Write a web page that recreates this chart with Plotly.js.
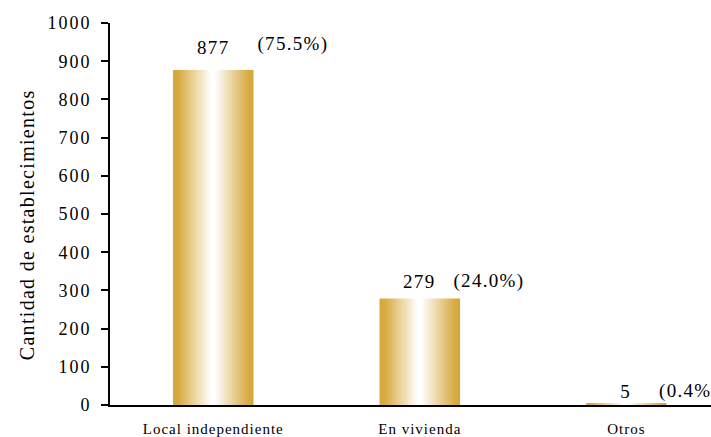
<!DOCTYPE html>
<html>
<head>
<meta charset="utf-8">
<script src="https://cdn.plot.ly/plotly-3.0.1.min.js"></script>
<style>
html,body{margin:0;padding:0;background:#fff;}
#chart{width:711px;height:437px;}
#chart .xtick text{letter-spacing:1px;}
#chart .ytick text{letter-spacing:2px;}
#chart .annotation text{letter-spacing:1.3px;}
#chart .annotation.ytitle-ann text{letter-spacing:1px;}
</style>
</head>
<body>
<div id="chart"></div>
<script>
const categories = ["Local independiente", "En vivienda", "Otros"];
const counts = [877, 279, 5];
const percentLabels = ["(75.5%)", "(24.0%)", "(0.4%)"];
const yTickValues = [0, 100, 200, 300, 400, 500, 600, 700, 800, 900, 1000];
const yTitle = "Cantidad de establecimientos";

const serif = "Liberation Serif";

const annotations = [];
const pctShift = [47, 36, 35];
const valShift = [22, 17, 12];
const pctY = [26, 17, 12];
categories.forEach((c, i) => {
  annotations.push({
    x: c, y: counts[i], xref: "x", yref: "y",
    text: String(counts[i]), showarrow: false,
    xanchor: "center", yanchor: "middle", yshift: valShift[i],
    font: {family: serif, size: 19, color: "#000"}
  });
  annotations.push({
    x: c, y: counts[i], xref: "x", yref: "y",
    text: percentLabels[i], showarrow: false,
    xanchor: "left", yanchor: "middle", xshift: pctShift[i], yshift: pctY[i],
    font: {family: serif, size: 19, color: "#000"}
  });
});
annotations.push({
  x: 0, y: 0.5, xref: "paper", yref: "paper",
  text: yTitle, showarrow: false, textangle: -90,
  xanchor: "center", yanchor: "middle", xshift: -83, yshift: -11,
  font: {family: serif, size: 20, color: "#000"}
});

const data = [{
  type: "bar",
  x: categories,
  y: counts,
  width: 0.39,
  marker: {color: "#D6A73A", line: {width: 0}},
  hoverinfo: "none"
}];

const layout = {
  width: 711, height: 437,
  margin: {l: 110, r: 0, t: 23, b: 32, pad: 0},
  paper_bgcolor: "#fff", plot_bgcolor: "#fff",
  showlegend: false,
  font: {family: serif, color: "#000"},
  xaxis: {
    range: [-0.5, 2.41],
    showgrid: false, zeroline: false,
    showline: true, linecolor: "#000", linewidth: 2,
    ticks: "", ticklabelstandoff: 9,
    tickfont: {family: serif, size: 15, color: "#000"}
  },
  yaxis: {
    range: [0, 1000],
    tickvals: yTickValues,
    ticktext: yTickValues.map(String),
    showgrid: false, zeroline: false,
    showline: true, linecolor: "#000", linewidth: 2,
    ticks: "outside", ticklen: 7, tickwidth: 2, tickcolor: "#000",
    ticklabelstandoff: 6,
    tickfont: {family: serif, size: 18, color: "#000"}
  },
  annotations: annotations
};

Plotly.newPlot("chart", data, layout, {displayModeBar: false, staticPlot: true}).then(() => {
  const svg = document.querySelector("#chart .main-svg");
  const ns = "http://www.w3.org/2000/svg";
  let defs = svg.querySelector("defs");
  if (!defs) { defs = document.createElementNS(ns, "defs"); svg.insertBefore(defs, svg.firstChild); }
  const grad = document.createElementNS(ns, "linearGradient");
  grad.setAttribute("id", "barGrad");
  grad.setAttribute("x1", "0"); grad.setAttribute("x2", "1");
  grad.setAttribute("y1", "0"); grad.setAttribute("y2", "0");
  [["0", "#D6A73A"], ["0.07", "#D8AB40"], ["0.47", "#FFFFFF"], ["0.52", "#FFFFFF"], ["0.93", "#D8AB45"], ["1", "#D6A73A"]].forEach(([o, c]) => {
    const s = document.createElementNS(ns, "stop");
    s.setAttribute("offset", o); s.setAttribute("stop-color", c);
    grad.appendChild(s);
  });
  defs.appendChild(grad);
  document.querySelectorAll("#chart .bars .point path").forEach(p => { p.style.fill = "url(#barGrad)"; });
});
</script>
</body>
</html>
